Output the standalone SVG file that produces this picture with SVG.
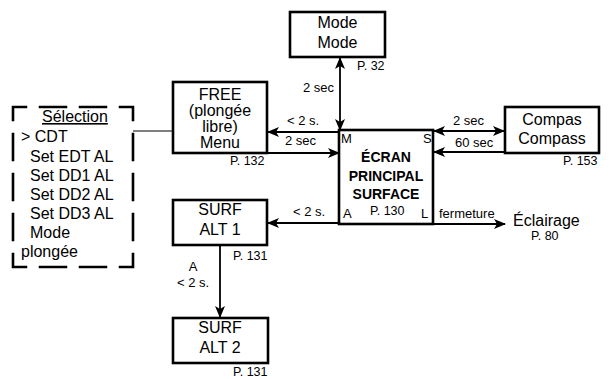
<svg xmlns="http://www.w3.org/2000/svg" width="609" height="379" viewBox="0 0 609 379">
<defs>
<marker id="ah" viewBox="0 0 12 10" refX="11" refY="5" markerWidth="12" markerHeight="10" markerUnits="userSpaceOnUse" orient="auto-start-reverse">
<path d="M0,0 L12,5 L0,10 L3,5 z" fill="#000"/>
</marker>
</defs>
<style>
text{font-family:"Liberation Sans",Arial,sans-serif;fill:#000}
.box{fill:#fff;stroke:#000;stroke-width:2.6}
.t{font-size:16px;text-anchor:middle}
.b{font-size:14px;font-weight:bold;text-anchor:middle}
.lbl{font-size:13px}
.p{font-size:12.5px}
.sel{font-size:16px}
.c{fill:none;stroke:#000;stroke-width:1.8}
</style>
<rect width="609" height="379" fill="#fff"/>
<g id="connectors">
<line class="c" x1="340" y1="58" x2="340" y2="130" marker-start="url(#ah)" marker-end="url(#ah)"/>
<line class="c" x1="340" y1="132" x2="268" y2="132" marker-end="url(#ah)"/>
<line class="c" x1="268" y1="153" x2="339" y2="153" marker-end="url(#ah)"/>
<line class="c" x1="434" y1="131" x2="504" y2="131" marker-start="url(#ah)" marker-end="url(#ah)"/>
<line class="c" x1="505" y1="152" x2="434" y2="152" marker-end="url(#ah)"/>
<line class="c" x1="340" y1="223" x2="268" y2="223" marker-end="url(#ah)"/>
<line class="c" x1="433" y1="224" x2="505" y2="224" marker-end="url(#ah)"/>
<line class="c" x1="220" y1="246" x2="220" y2="317" marker-end="url(#ah)"/>
<line x1="133" y1="131" x2="173" y2="131" stroke="#000" stroke-width="1.2"/>
<text class="lbl" x="303" y="92">2 sec</text>
<text class="lbl" x="287" y="125">&lt; 2 s.</text>
<text class="lbl" x="285" y="145">2 sec</text>
<text class="lbl" x="453" y="125">2 sec</text>
<text class="lbl" x="455" y="147">60 sec</text>
<text class="lbl" x="293" y="216">&lt; 2 s.</text>
<text class="lbl" x="439" y="218">fermeture</text>
<text class="lbl" x="193" y="271" text-anchor="middle">A</text>
<text class="lbl" x="177" y="287">&lt; 2 s.</text>
</g>
<g id="selection">
<path d="M13,107 H133 V267 H13 Z" fill="none" stroke="#000" stroke-width="2.6" stroke-dasharray="28.5 11.5" stroke-dashoffset="14.25"/>
<text class="sel" x="42" y="122" text-decoration="underline">Sélection</text>
<text class="sel" x="21" y="142">&gt; CDT</text>
<text class="sel" x="30" y="162">Set EDT AL</text>
<text class="sel" x="30" y="181">Set DD1 AL</text>
<text class="sel" x="30" y="200">Set DD2 AL</text>
<text class="sel" x="30" y="219">Set DD3 AL</text>
<text class="sel" x="30" y="238">Mode</text>
<text class="sel" x="21" y="257">plongée</text>
</g>
<g id="mode">
<rect class="box" x="290" y="12" width="95" height="45"/>
<text class="t" x="337.5" y="28">Mode</text>
<text class="t" x="337.5" y="48">Mode</text>
<text class="p" x="357" y="70">P. 32</text>
</g>
<g id="free">
<rect class="box" x="173" y="82" width="94" height="71"/>
<text class="t" x="220" y="100">FREE</text>
<text class="t" x="220" y="116">(plongée</text>
<text class="t" x="220" y="132">libre)</text>
<text class="t" x="220" y="148">Menu</text>
<text class="p" x="230" y="165">P. 132</text>
</g>
<g id="main">
<rect class="box" x="339" y="130" width="94" height="94"/>
<text class="lbl" x="341" y="143" font-size="14">M</text>
<text class="lbl" x="423" y="143" font-size="14">S</text>
<text class="b" x="386" y="162">ÉCRAN</text>
<text class="b" x="386" y="181">PRINCIPAL</text>
<text class="b" x="386" y="199">SURFACE</text>
<text class="lbl" x="343" y="218" font-size="14">A</text>
<text class="p" x="370" y="215">P. 130</text>
<text class="lbl" x="421" y="218" font-size="14">L</text>
</g>
<g id="compas">
<rect class="box" x="505" y="107" width="94" height="46"/>
<text class="t" x="552" y="125">Compas</text>
<text class="t" x="552" y="144">Compass</text>
<text class="p" x="563" y="165">P. 153</text>
</g>
<g id="eclairage">
<text x="513" y="226" font-size="16">Éclairage</text>
<text class="p" x="531" y="240">P. 80</text>
</g>
<g id="surf1">
<rect class="box" x="173" y="200" width="94" height="45"/>
<text class="t" x="220" y="215">SURF</text>
<text class="t" x="220" y="235">ALT 1</text>
<text class="p" x="233" y="260">P. 131</text>
</g>
<g id="surf2">
<rect class="box" x="173" y="318" width="95" height="45"/>
<text class="t" x="220" y="333">SURF</text>
<text class="t" x="220" y="353">ALT 2</text>
<text class="p" x="233" y="376">P. 131</text>
</g>
</svg>
